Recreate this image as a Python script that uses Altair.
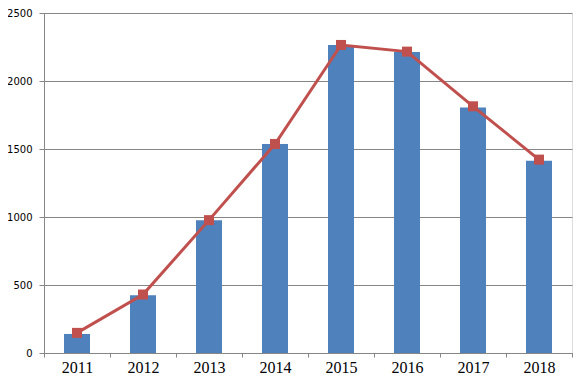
import altair as alt
import pandas as pd

years = ["2011", "2012", "2013", "2014", "2015", "2016", "2017", "2018"]
bar_values = [140, 424, 977, 1537, 2265, 2214, 1806, 1413]
line_values = [148, 430, 977, 1537, 2265, 2216, 1814, 1422]

df = pd.DataFrame({"year": years, "bar": bar_values, "line": line_values})

x = alt.X("year:N", title=None, sort=years,
          scale=alt.Scale(paddingInner=0, paddingOuter=0),
          axis=alt.Axis(labelAngle=0, labelFont="Liberation Serif", labelFontSize=16,
                        labelColor="#000000", tickBand="extent", tickSize=4,
                        tickColor="#868686", domainColor="#868686", labelPadding=2,
                        grid=False))
y_scale = alt.Scale(domain=[0, 2500], nice=False)

bars = alt.Chart(df).mark_bar(color="#4F81BD", size=26).encode(
    x=x,
    y=alt.Y("bar:Q", title=None, scale=y_scale,
            axis=alt.Axis(values=[0, 500, 1000, 1500, 2000, 2500], format="d",
                          labelFont="DejaVu Sans",
                          labelFontSize=10, labelColor="#000000", tickSize=5,
                          tickColor="#868686", domainColor="#868686", gridColor="#868686",
                          gridOpacity=1, labelPadding=7)),
)

line = alt.Chart(df).mark_line(color="#C0504D", strokeWidth=3).encode(
    x=x, y=alt.Y("line:Q", scale=y_scale)
)
points = alt.Chart(df).mark_point(shape="square", filled=True, color="#C0504D",
                                  size=100, opacity=1).encode(
    x=x, y=alt.Y("line:Q", scale=y_scale)
)

chart = alt.layer(bars, line, points).properties(
    width=528, height=340,
    autosize=alt.AutoSizeParams(type="none"),
    padding={"left": 36, "top": 5, "right": 8, "bottom": 30},
).configure_view(stroke=None).configure(background="#ffffff")

chart.save("out.html", embed_options={"renderer": "svg", "actions": False})
